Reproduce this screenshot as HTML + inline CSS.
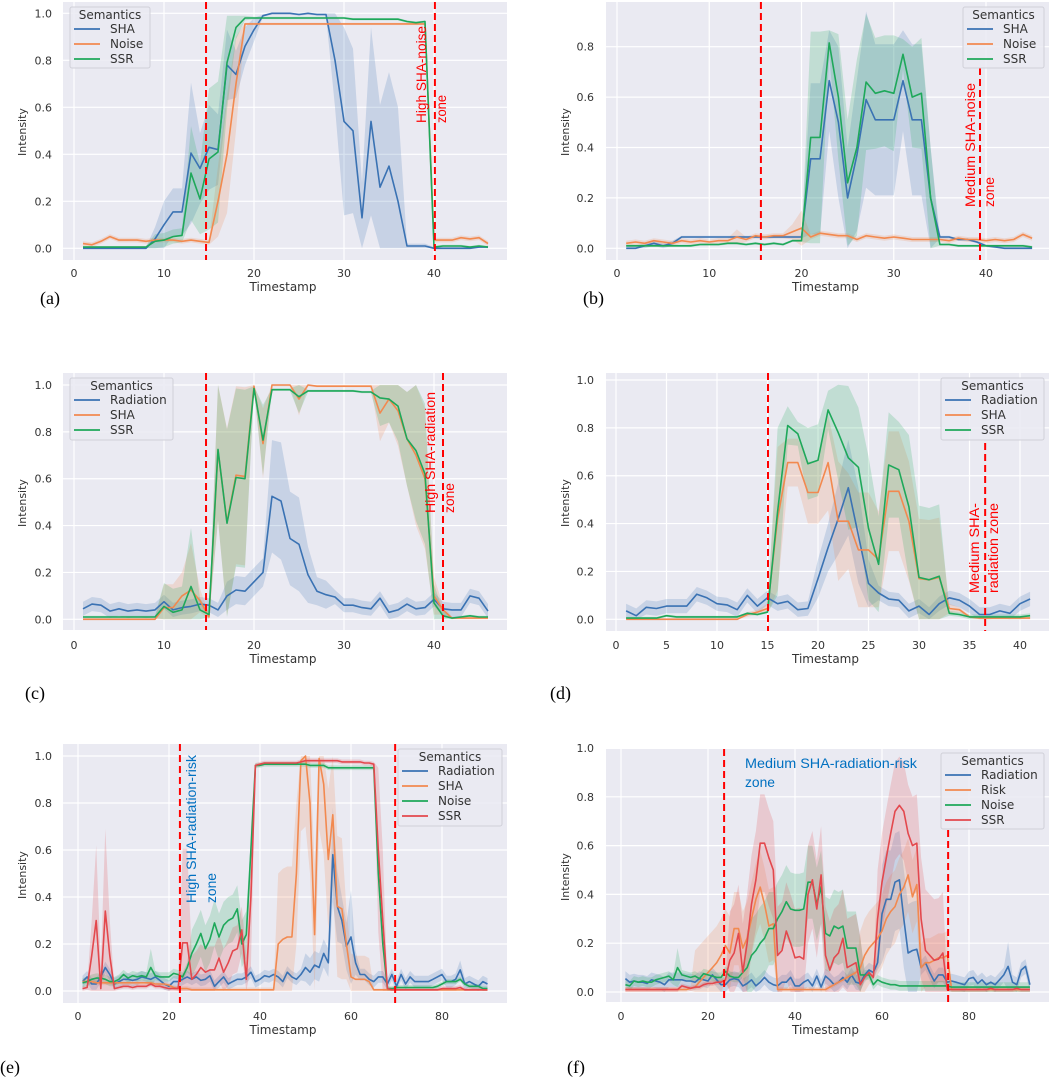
<!DOCTYPE html>
<html><head><meta charset="utf-8"><style>
html,body{margin:0;padding:0;background:#fff;}
svg{display:block;}
</style></head><body>
<svg id="fig" width="1052" height="1078" viewBox="0 0 1052 1078" xmlns="http://www.w3.org/2000/svg"></svg>
<script>
// ---------- DATA (mean values and band half-widths, timestamps start at 1) ----------
const a_SHA=[0,0,0,0,0,0,0,0,0.04,0.1,0.155,0.155,0.405,0.34,0.43,0.42,0.78,0.74,0.86,0.93,0.99,1,1,1,0.995,1,0.995,0.995,0.8,0.54,0.5,0.13,0.54,0.26,0.35,0.2,0.01,0.01,0.01,0,0,0,0,0,0.005,0.005];
const a_SHA_hw=[0.005,0.005,0.005,0.005,0.005,0.005,0.005,0.005,0.05,0.1,0.1,0.1,0.3,0.15,0.18,0.15,0.15,0.1,0.08,0.05,0.005,0.005,0.005,0.005,0.005,0.005,0.005,0.005,0.2,0.4,0.35,0.15,0.4,0.35,0.4,0.4,0.01,0.01,0.01,0.005,0.005,0.005,0.005,0.005,0.005,0.005];
const a_Noise=[0.02,0.015,0.03,0.05,0.035,0.035,0.035,0.03,0.035,0.035,0.035,0.03,0.035,0.03,0.025,0.2,0.4,0.7,0.955,0.955,0.955,0.955,0.955,0.955,0.955,0.955,0.955,0.955,0.955,0.955,0.955,0.955,0.955,0.955,0.955,0.955,0.955,0.955,0.955,0.035,0.035,0.035,0.045,0.04,0.045,0.02];
const a_Noise_hw=[0.01,0.01,0.01,0.01,0.01,0.01,0.01,0.01,0.01,0.01,0.01,0.01,0.01,0.01,0.01,0.15,0.25,0.2,0.005,0.005,0.005,0.005,0.005,0.005,0.005,0.005,0.005,0.005,0.005,0.005,0.005,0.005,0.005,0.005,0.005,0.005,0.005,0.005,0.005,0.01,0.01,0.01,0.01,0.01,0.01,0.01];
const a_SSR=[0.005,0.005,0.005,0.005,0.005,0.005,0.005,0.005,0.03,0.035,0.05,0.055,0.32,0.21,0.38,0.41,0.79,0.94,0.98,0.98,0.98,0.98,0.98,0.98,0.98,0.98,0.98,0.98,0.98,0.98,0.975,0.975,0.975,0.975,0.975,0.975,0.965,0.96,0.965,0.005,0.01,0.01,0.01,0.005,0.01,0.005];
const a_SSR_hw=[0.005,0.005,0.005,0.005,0.005,0.005,0.005,0.005,0.03,0.03,0.03,0.03,0.2,0.15,0.3,0.3,0.2,0.05,0.01,0.005,0.005,0.005,0.005,0.005,0.005,0.005,0.005,0.005,0.005,0.005,0.005,0.005,0.005,0.005,0.005,0.005,0.005,0.005,0.005,0.005,0.005,0.005,0.005,0.005,0.005,0.005];

const b_SHA=[0,0,0.01,0.02,0.01,0.02,0.045,0.045,0.045,0.045,0.045,0.045,0.045,0.045,0.045,0.045,0.045,0.045,0.045,0.045,0.355,0.355,0.665,0.5,0.2,0.37,0.59,0.51,0.51,0.51,0.665,0.51,0.51,0.2,0.045,0.045,0.035,0.035,0.025,0.01,0.005,0,0,0,0];
const b_SHA_hw=[0.01,0.01,0.01,0.01,0.01,0.01,0.005,0.005,0.005,0.005,0.005,0.005,0.005,0.005,0.005,0.005,0.005,0.005,0.005,0.005,0.3,0.3,0.2,0.3,0.2,0.3,0.35,0.3,0.3,0.3,0.2,0.3,0.3,0.2,0.005,0.005,0.005,0.005,0.005,0.005,0.005,0.005,0.005,0.005,0.005];
const b_Noise=[0.02,0.025,0.02,0.03,0.025,0.02,0.03,0.025,0.03,0.025,0.03,0.03,0.045,0.035,0.05,0.045,0.05,0.05,0.065,0.08,0.045,0.06,0.055,0.05,0.05,0.035,0.05,0.045,0.04,0.045,0.04,0.035,0.035,0.035,0.035,0.03,0.04,0.035,0.035,0.03,0.035,0.03,0.035,0.055,0.04];
const b_Noise_hw=[0.01,0.01,0.01,0.01,0.01,0.01,0.01,0.01,0.01,0.01,0.01,0.01,0.03,0.01,0.01,0.01,0.01,0.01,0.03,0.07,0.01,0.01,0.01,0.01,0.01,0.01,0.01,0.01,0.01,0.01,0.01,0.01,0.01,0.01,0.01,0.01,0.01,0.01,0.01,0.01,0.01,0.01,0.01,0.01,0.01];
const b_SSR=[0.01,0.01,0.01,0.01,0.01,0.01,0.01,0.01,0.015,0.015,0.015,0.02,0.02,0.015,0.02,0.015,0.02,0.015,0.03,0.03,0.44,0.44,0.815,0.6,0.26,0.4,0.66,0.615,0.625,0.615,0.77,0.6,0.615,0.2,0.015,0.015,0.01,0.01,0.01,0.01,0.01,0.01,0.01,0.01,0.005];
const b_SSR_hw=[0.005,0.005,0.005,0.005,0.005,0.005,0.005,0.005,0.005,0.005,0.005,0.005,0.005,0.005,0.005,0.005,0.005,0.005,0.005,0.005,0.42,0.42,0.05,0.25,0.25,0.35,0.27,0.22,0.22,0.23,0.06,0.2,0.22,0.2,0.005,0.005,0.005,0.005,0.005,0.005,0.005,0.005,0.005,0.005,0.005];

const c_Rad=[0.045,0.065,0.06,0.035,0.045,0.035,0.04,0.035,0.04,0.075,0.04,0.05,0.055,0.065,0.06,0.04,0.1,0.125,0.12,0.16,0.2,0.525,0.505,0.345,0.32,0.19,0.12,0.105,0.095,0.06,0.06,0.05,0.045,0.09,0.03,0.04,0.065,0.045,0.05,0.085,0.045,0.04,0.04,0.1,0.09,0.035];
const c_Rad_hw=[0.03,0.03,0.03,0.03,0.03,0.03,0.03,0.03,0.03,0.03,0.03,0.03,0.03,0.03,0.03,0.03,0.06,0.06,0.06,0.06,0.06,0.24,0.25,0.2,0.2,0.12,0.06,0.06,0.03,0.03,0.03,0.03,0.03,0.03,0.03,0.03,0.03,0.03,0.03,0.03,0.03,0.03,0.03,0.03,0.03,0.03];
const c_SHA=[0,0,0,0,0,0,0,0,0,0.05,0.05,0.1,0.125,0.08,0.01,0.72,0.415,0.615,0.61,0.995,0.75,1,1,1,0.94,1,0.995,0.995,0.995,0.995,0.995,0.995,0.995,0.88,0.94,0.89,0.77,0.7,0.6,0.1,0.04,0.005,0.005,0.005,0.005,0.005];
const c_SHA_hw=[0.005,0.005,0.005,0.005,0.005,0.005,0.005,0.005,0.005,0.1,0.1,0.1,0.2,0.05,0.01,0.3,0.4,0.38,0.38,0.01,0.15,0.005,0.005,0.005,0.07,0.005,0.005,0.005,0.005,0.005,0.005,0.005,0.005,0.12,0.1,0.15,0.2,0.3,0.3,0.08,0.02,0.005,0.005,0.005,0.005,0.005];
const c_SSR=[0.01,0.01,0.01,0.01,0.01,0.01,0.01,0.01,0.01,0.055,0.03,0.04,0.14,0.04,0.02,0.725,0.41,0.605,0.6,0.985,0.765,0.98,0.98,0.98,0.95,0.975,0.975,0.975,0.975,0.975,0.975,0.97,0.97,0.945,0.94,0.91,0.77,0.72,0.62,0.07,0.015,0.005,0.01,0.015,0.01,0.01];
const c_SSR_hw=[0.005,0.005,0.005,0.005,0.005,0.005,0.005,0.005,0.005,0.1,0.1,0.1,0.25,0.05,0.01,0.3,0.4,0.38,0.38,0.01,0.15,0.005,0.005,0.005,0.07,0.005,0.005,0.005,0.005,0.005,0.005,0.005,0.005,0.12,0.1,0.15,0.2,0.3,0.3,0.08,0.02,0.005,0.005,0.005,0.005,0.005];

const d_Rad=[0.035,0.015,0.05,0.045,0.055,0.055,0.055,0.105,0.09,0.065,0.06,0.04,0.1,0.055,0.09,0.065,0.075,0.04,0.045,0.17,0.3,0.42,0.55,0.35,0.15,0.11,0.085,0.08,0.035,0.055,0.02,0.065,0.09,0.08,0.055,0.02,0.02,0.035,0.025,0.065,0.085];
const d_Rad_hw=[0.03,0.03,0.03,0.03,0.03,0.03,0.03,0.03,0.03,0.03,0.03,0.03,0.03,0.03,0.03,0.03,0.03,0.03,0.03,0.08,0.1,0.15,0.2,0.2,0.1,0.03,0.03,0.03,0.03,0.03,0.03,0.03,0.03,0.03,0.03,0.03,0.03,0.03,0.03,0.03,0.03];
const d_SHA=[0,0,0,0,0,0,0,0,0,0,0,0,0.02,0.03,0.045,0.42,0.655,0.655,0.53,0.53,0.655,0.41,0.41,0.29,0.29,0.25,0.535,0.535,0.41,0.17,0.165,0.175,0.045,0.04,0.01,0.005,0.005,0.005,0.005,0.005,0.005];
const d_SHA_hw=[0.005,0.005,0.005,0.005,0.005,0.005,0.005,0.005,0.005,0.005,0.005,0.005,0.01,0.01,0.02,0.3,0.1,0.1,0.13,0.13,0.2,0.25,0.2,0.24,0.24,0.2,0.25,0.25,0.25,0.25,0.25,0.25,0.02,0.01,0.005,0.005,0.005,0.005,0.005,0.005,0.005];
const d_SSR=[0.005,0.005,0.005,0.005,0.015,0.01,0.01,0.01,0.01,0.01,0.01,0.01,0.025,0.02,0.03,0.45,0.81,0.775,0.65,0.665,0.875,0.78,0.675,0.635,0.38,0.23,0.645,0.625,0.47,0.175,0.165,0.18,0.025,0.02,0.01,0.01,0.01,0.01,0.01,0.01,0.015];
const d_SSR_hw=[0.005,0.005,0.005,0.005,0.005,0.005,0.005,0.005,0.005,0.005,0.005,0.005,0.005,0.005,0.005,0.35,0.08,0.05,0.15,0.15,0.08,0.2,0.3,0.25,0.3,0.2,0.22,0.2,0.3,0.3,0.3,0.3,0.01,0.01,0.01,0.01,0.01,0.01,0.01,0.01,0.01];

const e_Rad=[0.04,0.06,0.03,0.03,0.06,0.1,0.07,0.03,0.04,0.05,0.05,0.045,0.05,0.06,0.055,0.05,0.06,0.045,0.03,0.02,0.04,0.04,0.05,0.06,0.05,0.06,0.045,0.05,0.065,0.02,0.04,0.06,0.03,0.04,0.05,0.05,0.06,0.08,0.04,0.05,0.065,0.06,0.07,0.06,0.04,0.08,0.06,0.05,0.07,0.1,0.08,0.11,0.1,0.16,0.12,0.58,0.36,0.3,0.19,0.23,0.12,0.07,0.07,0.05,0.04,0.06,0.06,0.03,0.07,0.02,0.07,0.03,0.06,0.04,0.04,0.04,0.04,0.05,0.06,0.07,0.04,0.04,0.05,0.09,0.03,0.04,0.03,0.02,0.04,0.03];
const e_Rad_hw=[0.025,0.025,0.025,0.025,0.025,0.025,0.025,0.025,0.025,0.025,0.025,0.025,0.025,0.025,0.025,0.025,0.025,0.025,0.025,0.025,0.025,0.025,0.025,0.025,0.025,0.025,0.025,0.025,0.025,0.025,0.025,0.025,0.025,0.025,0.025,0.025,0.025,0.025,0.025,0.025,0.025,0.025,0.025,0.025,0.025,0.025,0.025,0.025,0.025,0.06,0.06,0.06,0.06,0.06,0.06,0.2,0.15,0.1,0.1,0.2,0.05,0.025,0.025,0.025,0.025,0.025,0.025,0.025,0.025,0.025,0.025,0.025,0.025,0.025,0.025,0.025,0.025,0.025,0.025,0.025,0.025,0.025,0.025,0.04,0.025,0.025,0.025,0.025,0.025,0.025];
const e_SHA=[0.04,0.04,0.04,0.035,0.035,0.035,0.035,0.035,0.035,0.035,0.035,0.035,0.035,0.035,0.035,0.035,0.03,0.03,0.03,0.025,0.015,0.01,0.01,0.01,0.005,0.005,0.005,0.005,0.005,0.005,0.005,0.005,0.005,0.005,0.005,0.005,0.005,0.005,0.005,0.005,0.005,0.005,0.005,0.2,0.22,0.23,0.23,0.5,0.98,1,0.8,0.24,0.99,0.88,0.56,0.75,0.36,0.35,0.2,0.06,0.05,0.05,0.05,0.04,0.005,0.005,0.005,0.005,0.005,0.005,0.005,0.005,0.005,0.005,0.005,0.005,0.005,0.005,0.005,0.005,0.005,0.005,0.005,0.005,0.005,0.005,0.005,0.005,0.005,0.005];
const e_SHA_hw=[0.01,0.01,0.01,0.01,0.01,0.01,0.01,0.01,0.01,0.01,0.01,0.01,0.01,0.01,0.01,0.01,0.01,0.01,0.01,0.01,0.01,0.01,0.01,0.01,0.01,0.01,0.01,0.01,0.01,0.01,0.01,0.01,0.01,0.01,0.01,0.01,0.01,0.01,0.01,0.01,0.01,0.01,0.01,0.3,0.3,0.3,0.3,0.3,0.3,0.3,0.3,0.3,0.3,0.3,0.3,0.3,0.3,0.3,0.15,0.1,0.1,0.1,0.1,0.1,0.005,0.005,0.005,0.005,0.005,0.005,0.005,0.005,0.005,0.005,0.005,0.005,0.005,0.005,0.005,0.005,0.005,0.005,0.005,0.005,0.005,0.005,0.005,0.005,0.005,0.005];
const e_Noise=[0.035,0.04,0.05,0.055,0.055,0.05,0.04,0.04,0.05,0.07,0.055,0.065,0.06,0.065,0.06,0.1,0.065,0.06,0.06,0.06,0.075,0.07,0.06,0.1,0.16,0.2,0.245,0.18,0.22,0.29,0.23,0.28,0.3,0.31,0.35,0.2,0.24,0.6,0.96,0.96,0.965,0.965,0.965,0.965,0.965,0.965,0.965,0.965,0.965,0.965,0.96,0.96,0.96,0.96,0.95,0.95,0.95,0.95,0.95,0.95,0.95,0.95,0.95,0.95,0.95,0.5,0.2,0.01,0.01,0.015,0.015,0.015,0.015,0.015,0.015,0.015,0.015,0.015,0.02,0.03,0.04,0.04,0.04,0.05,0.03,0.02,0.02,0.02,0.01,0.01];
const e_Noise_hw=[0.02,0.02,0.02,0.02,0.02,0.02,0.02,0.02,0.02,0.02,0.02,0.02,0.02,0.02,0.02,0.08,0.02,0.02,0.02,0.02,0.02,0.02,0.02,0.02,0.1,0.1,0.1,0.1,0.1,0.1,0.1,0.1,0.1,0.1,0.1,0.1,0.1,0.05,0.01,0.01,0.01,0.01,0.01,0.01,0.01,0.01,0.01,0.01,0.01,0.01,0.01,0.01,0.01,0.01,0.01,0.01,0.01,0.01,0.01,0.01,0.01,0.01,0.01,0.01,0.01,0.01,0.01,0.01,0.01,0.01,0.01,0.01,0.01,0.01,0.01,0.01,0.01,0.01,0.01,0.01,0.01,0.01,0.01,0.01,0.01,0.01,0.01,0.01,0.01,0.01];
const e_SSR=[0.01,0.015,0.15,0.3,0.01,0.34,0.15,0.01,0.015,0.02,0.02,0.015,0.02,0.02,0.02,0.03,0.02,0.02,0.015,0.01,0.01,0.01,0.205,0.205,0.05,0.07,0.1,0.08,0.09,0.09,0.14,0.08,0.12,0.17,0.18,0.26,0.05,0.4,0.96,0.965,0.97,0.97,0.97,0.97,0.97,0.97,0.97,0.97,0.975,0.98,0.98,0.98,0.98,0.98,0.98,0.98,0.98,0.975,0.975,0.975,0.975,0.975,0.97,0.97,0.965,0.6,0.3,0.01,0.005,0.005,0.005,0.005,0.005,0.005,0.005,0.005,0.005,0.005,0.005,0.01,0.01,0.01,0.01,0.015,0.005,0.005,0.005,0.005,0.005,0.005];
const e_SSR_hw=[0.01,0.01,0.15,0.32,0.1,0.35,0.15,0.01,0.01,0.01,0.01,0.01,0.01,0.01,0.01,0.01,0.01,0.01,0.01,0.01,0.01,0.01,0.4,0.4,0.1,0.1,0.1,0.1,0.1,0.1,0.1,0.1,0.1,0.1,0.1,0.1,0.1,0.3,0.01,0.01,0.01,0.01,0.01,0.01,0.01,0.01,0.01,0.01,0.01,0.01,0.01,0.01,0.01,0.01,0.01,0.01,0.01,0.01,0.01,0.01,0.01,0.01,0.01,0.01,0.01,0.35,0.3,0.01,0.01,0.01,0.01,0.01,0.01,0.01,0.01,0.01,0.01,0.01,0.01,0.01,0.01,0.01,0.01,0.01,0.01,0.01,0.01,0.01,0.01,0.01];

const f_Rad=[0.055,0.04,0.045,0.04,0.04,0.035,0.05,0.045,0.04,0.03,0.05,0.05,0.05,0.05,0.045,0.045,0.04,0.055,0.05,0.045,0.07,0.05,0.03,0.03,0.05,0.055,0.05,0.025,0.035,0.05,0.025,0.04,0.06,0.04,0.03,0.025,0.04,0.04,0.06,0.025,0.025,0.04,0.05,0.025,0.065,0.02,0.065,0.05,0.03,0.04,0.06,0.04,0.07,0.04,0.035,0.07,0.09,0.08,0.12,0.32,0.38,0.38,0.45,0.46,0.3,0.16,0.17,0.175,0.1,0.12,0.08,0.045,0.07,0.07,0.04,0.045,0.04,0.035,0.03,0.055,0.06,0.035,0.05,0.03,0.04,0.03,0.05,0.07,0.105,0.04,0.03,0.09,0.105,0.03];
const f_Rad_hw=[0.03,0.03,0.03,0.03,0.03,0.03,0.03,0.03,0.03,0.03,0.03,0.03,0.03,0.03,0.03,0.03,0.03,0.03,0.03,0.03,0.03,0.03,0.03,0.03,0.03,0.03,0.03,0.03,0.03,0.03,0.03,0.03,0.03,0.03,0.03,0.03,0.03,0.03,0.03,0.03,0.03,0.03,0.03,0.03,0.03,0.03,0.03,0.03,0.03,0.03,0.03,0.03,0.03,0.03,0.03,0.03,0.03,0.03,0.03,0.2,0.2,0.2,0.2,0.2,0.2,0.2,0.2,0.2,0.03,0.03,0.03,0.03,0.03,0.03,0.03,0.03,0.03,0.03,0.03,0.03,0.03,0.03,0.03,0.03,0.03,0.03,0.03,0.03,0.1,0.03,0.03,0.03,0.03,0.03];
const f_Risk=[0.01,0.01,0.01,0.01,0.01,0.01,0.01,0.01,0.01,0.01,0.01,0.01,0.01,0.01,0.01,0.015,0.02,0.04,0.06,0.08,0.1,0.12,0.15,0.19,0.16,0.26,0.26,0.18,0.22,0.3,0.38,0.43,0.36,0.27,0.28,0.01,0.01,0.01,0.01,0.01,0.01,0.01,0.01,0.01,0.01,0.01,0.01,0.02,0.03,0.04,0.05,0.06,0.07,0.08,0.1,0.15,0.18,0.2,0.22,0.25,0.3,0.33,0.35,0.4,0.43,0.48,0.39,0.44,0.1,0.12,0.12,0.13,0.14,0.14,0.15,0.01,0.01,0.01,0.01,0.01,0.01,0.01,0.01,0.01,0.01,0.01,0.01,0.01,0.01,0.01,0.01,0.01,0.01,0.01];
const f_Risk_hw=[0.01,0.01,0.01,0.01,0.01,0.01,0.01,0.01,0.01,0.01,0.01,0.01,0.01,0.01,0.01,0.01,0.15,0.15,0.15,0.15,0.15,0.15,0.15,0.15,0.15,0.15,0.15,0.15,0.15,0.15,0.15,0.15,0.15,0.15,0.15,0.01,0.01,0.01,0.01,0.01,0.01,0.01,0.01,0.01,0.01,0.01,0.01,0.01,0.01,0.01,0.01,0.01,0.01,0.01,0.15,0.15,0.15,0.15,0.15,0.15,0.15,0.15,0.15,0.15,0.15,0.15,0.15,0.15,0.1,0.1,0.1,0.1,0.1,0.1,0.1,0.01,0.01,0.01,0.01,0.01,0.01,0.01,0.01,0.01,0.01,0.01,0.01,0.01,0.01,0.01,0.01,0.01,0.01,0.01];
const f_Noise=[0.03,0.025,0.045,0.04,0.045,0.04,0.04,0.05,0.055,0.06,0.065,0.05,0.1,0.07,0.065,0.06,0.065,0.055,0.075,0.07,0.065,0.06,0.06,0.085,0.065,0.06,0.06,0.08,0.1,0.15,0.17,0.2,0.22,0.26,0.26,0.3,0.33,0.37,0.34,0.335,0.335,0.34,0.45,0.45,0.36,0.43,0.24,0.23,0.27,0.26,0.27,0.18,0.18,0.18,0.07,0.07,0.07,0.03,0.05,0.04,0.035,0.03,0.03,0.025,0.025,0.025,0.025,0.025,0.025,0.025,0.025,0.025,0.025,0.025,0.025,0.02,0.02,0.02,0.02,0.02,0.02,0.02,0.02,0.02,0.02,0.02,0.02,0.02,0.02,0.02,0.02,0.02,0.02,0.02];
const f_Noise_hw=[0.02,0.02,0.02,0.02,0.02,0.02,0.02,0.02,0.02,0.02,0.02,0.02,0.08,0.02,0.02,0.02,0.02,0.02,0.02,0.02,0.02,0.02,0.02,0.02,0.02,0.02,0.02,0.02,0.15,0.15,0.15,0.15,0.15,0.15,0.15,0.15,0.15,0.15,0.15,0.15,0.15,0.15,0.15,0.15,0.15,0.15,0.15,0.15,0.15,0.15,0.15,0.15,0.15,0.15,0.15,0.02,0.02,0.02,0.02,0.02,0.02,0.02,0.02,0.02,0.02,0.02,0.02,0.02,0.02,0.02,0.02,0.02,0.02,0.02,0.02,0.02,0.02,0.02,0.02,0.02,0.02,0.02,0.02,0.02,0.02,0.02,0.02,0.02,0.02,0.02,0.02,0.02,0.02,0.02];
const f_SSR=[0.01,0.01,0.01,0.01,0.01,0.01,0.01,0.01,0.01,0.01,0.01,0.01,0.01,0.025,0.02,0.015,0.02,0.02,0.03,0.035,0.035,0.04,0.04,0.05,0.13,0.16,0.24,0.08,0.2,0.36,0.46,0.61,0.61,0.55,0.5,0.15,0.17,0.25,0.2,0.14,0.145,0.135,0.4,0.46,0.34,0.48,0.15,0.09,0.14,0.16,0.22,0.1,0.11,0.12,0.03,0.06,0.08,0.06,0.3,0.45,0.55,0.65,0.74,0.765,0.74,0.65,0.6,0.61,0.3,0.17,0.15,0.13,0.135,0.16,0.01,0.01,0.01,0.01,0.01,0.01,0.01,0.01,0.01,0.01,0.015,0.01,0.01,0.01,0.01,0.01,0.015,0.01,0.01,0.01];
const f_SSR_hw=[0.01,0.01,0.01,0.01,0.01,0.01,0.01,0.01,0.01,0.01,0.01,0.01,0.01,0.01,0.01,0.01,0.01,0.01,0.01,0.01,0.01,0.01,0.01,0.01,0.2,0.2,0.2,0.2,0.2,0.2,0.2,0.2,0.2,0.2,0.2,0.2,0.2,0.2,0.2,0.2,0.2,0.2,0.2,0.2,0.2,0.2,0.2,0.2,0.2,0.2,0.2,0.2,0.2,0.2,0.2,0.01,0.01,0.01,0.2,0.2,0.2,0.2,0.2,0.2,0.2,0.2,0.2,0.2,0.25,0.25,0.25,0.25,0.25,0.25,0.01,0.01,0.01,0.01,0.01,0.01,0.01,0.01,0.01,0.01,0.01,0.01,0.01,0.01,0.01,0.01,0.01,0.01,0.01,0.01];

const ticks_x_10=[0,10,20,30,40];
const ticks_x_5=[0,5,10,15,20,25,30,35,40];
const ticks_x_20=[0,20,40,60,80];
const ticks_y_full=[0,0.2,0.4,0.6,0.8,1.0];
const ticks_y_08=[0,0.2,0.4,0.6,0.8];
const zones_a=[14.67,40.1];
const zones_b=[15.6,39.35];
const zones_c=[14.67,41.0];
const zones_d=[15.05,36.55];
const zones_e=[22.4,69.7];
const zones_f=[23.7,75.2];

// ---------- STYLE / LAYOUT ----------
const BLUE='#3a72b3', ORANGE='#f2894f', GREEN='#1ea85a', RED='#e3484d';
const NS='http://www.w3.org/2000/svg';
const svg=document.getElementById('fig');
const FONT='"DejaVu Sans","Liberation Sans",sans-serif';

function mk(tag, attrs, parent){
  const el=document.createElementNS(NS,tag);
  for(const k in attrs) el.setAttribute(k, attrs[k]);
  (parent||svg).appendChild(el);
  return el;
}

const panels=[
 {id:'a',label:'(a)',lx:40,ly:304,bg:[63,2,507,260],x0:74,k:9,v0:248.3,v1:13.3,xt:ticks_x_10,yt:ticks_y_full,ytx:52,xty:277,xly:291,ylx:22,yly:132,
  series:[['SHA',a_SHA,a_SHA_hw,BLUE],['Noise',a_Noise,a_Noise_hw,ORANGE],['SSR',a_SSR,a_SSR_hw,GREEN]],
  zones:zones_a,z2top:2,leg:[70,7,80,61],
  notes:[['High SHA-noise',426,123,97,'#ff0000',true],['zone',446,123,28,'#ff0000',true]]},
 {id:'b',label:'(b)',lx:583,ly:304,bg:[606,2,1049,260],x0:617,k:9.225,v0:248.3,v1:-3.7,xt:ticks_x_10,yt:ticks_y_08,ytx:594,xty:277,xly:291,ylx:565,yly:132,
  series:[['SHA',b_SHA,b_SHA_hw,BLUE],['Noise',b_Noise,b_Noise_hw,ORANGE],['SSR',b_SSR,b_SSR_hw,GREEN]],
  zones:zones_b,z2top:68,leg:[963,7,81,61],
  notes:[['Medium SHA-noise',975,207,124,'#ff0000',true],['zone',994,207,30,'#ff0000',true]]},
 {id:'c',label:'(c)',lx:25,ly:699,bg:[63,373,507,630],x0:74,k:9,v0:619.3,v1:385,xt:ticks_x_10,yt:ticks_y_full,ytx:52,xty:649,xly:663,ylx:22,yly:503,
  series:[['Radiation',c_Rad,c_Rad_hw,BLUE],['SHA',c_SHA,c_SHA_hw,ORANGE],['SSR',c_SSR,c_SSR_hw,GREEN]],
  zones:zones_c,z2top:373,leg:[70,378,103,62],
  notes:[['High SHA-radiation',435,513,121,'#ff0000',true],['zone',454,513,30,'#ff0000',true]]},
 {id:'d',label:'(d)',lx:550,ly:699,bg:[606,373,1049,631],x0:616,k:10.1,v0:619.3,v1:380,xt:ticks_x_5,yt:ticks_y_full,ytx:594,xty:649,xly:663,ylx:565,yly:503,
  series:[['Radiation',d_Rad,d_Rad_hw,BLUE],['SHA',d_SHA,d_SHA_hw,ORANGE],['SSR',d_SSR,d_SSR_hw,GREEN]],
  zones:zones_d,z2top:443,leg:[941,378,103,62],
  notes:[['Medium SHA-',979,593,90,'#ff0000',true],['radiation zone',998,593,90,'#ff0000',true]]},
 {id:'e',label:'(e)',lx:0,ly:1073,bg:[63,744,507,1003],x0:78,k:4.55,v0:991,v1:756,xt:ticks_x_20,yt:ticks_y_full,ytx:52,xty:1020,xly:1034,ylx:22,yly:875,
  series:[['Radiation',e_Rad,e_Rad_hw,BLUE],['SHA',e_SHA,e_SHA_hw,ORANGE],['Noise',e_Noise,e_Noise_hw,GREEN],['SSR',e_SSR,e_SSR_hw,RED]],
  zones:zones_e,z2top:744,leg:[398,749,104,77],
  notes:[['High SHA-radiation-risk',196,903,148,'#0070c0',true],['zone',216,903,30,'#0070c0',true]]},
 {id:'f',label:'(f)',lx:567,ly:1073,bg:[606,749,1049,1002],x0:621,k:4.35,v0:992,v1:748,xt:ticks_x_20,yt:ticks_y_full,ytx:594,xty:1020,xly:1034,ylx:565,yly:877,
  series:[['Radiation',f_Rad,f_Rad_hw,BLUE],['Risk',f_Risk,f_Risk_hw,ORANGE],['Noise',f_Noise,f_Noise_hw,GREEN],['SSR',f_SSR,f_SSR_hw,RED]],
  zones:zones_f,z2top:830,leg:[941,753,103,76],
  notes:[['Medium SHA-radiation-risk',745,768,172,'#0070c0',false],['zone',745,787,30,'#0070c0',false]]}
];

function clamp(v){return Math.max(0,Math.min(1,v));}

panels.forEach(p=>{
  const g=mk('g',{});
  
  
  const xs=t=>p.x0+t*p.k;
  const ys=v=>p.v0+(p.v1-p.v0)*v;
  const [bx0,by0,bx1,by1]=p.bg;
  const bg=mk('rect',{x:bx0,y:by0,width:bx1-bx0,height:by1-by0,fill:'#eaeaf2'},g);
  
  
  const cp=mk('clipPath',{id:'clip-'+p.id},g);
  mk('rect',{x:bx0,y:by0,width:bx1-bx0,height:by1-by0},cp);
  p.xt.forEach(t=>{
    const l=mk('line',{x1:xs(t),x2:xs(t),y1:by0,y2:by1,stroke:'#fff','stroke-width':1.2},g);
    
    
    const tx=mk('text',{x:xs(t),y:p.xty,'text-anchor':'middle','font-family':FONT,'font-size':11,fill:'#333'},g);
    tx.textContent=t;
    
    
  });
  p.yt.forEach(v=>{
    const l=mk('line',{x1:bx0,x2:bx1,y1:ys(v),y2:ys(v),stroke:'#fff','stroke-width':1.2},g);
    
    
    const tx=mk('text',{x:p.ytx,y:ys(v)+4,'text-anchor':'end','font-family':FONT,'font-size':11,fill:'#333'},g);
    tx.textContent=v.toFixed(1);
    
    
  });
  const xl=mk('text',{x:(bx0+bx1)/2-2,y:p.xly,'text-anchor':'middle','font-family':FONT,'font-size':12,fill:'#333'},g);
  xl.textContent='Timestamp';
  
  
  const yl=mk('text',{x:0,y:0,'text-anchor':'middle','font-family':FONT,'font-size':11,fill:'#333',transform:`translate(${p.ylx+4},${p.yly}) rotate(-90)`},g);
  yl.textContent='Intensity';
  
  
  const pg=mk('g',{'clip-path':`url(#clip-${p.id})`},g);
  p.series.forEach(s=>{
    const [name,vals,hw,col]=s;
    let up='',lo='';
    vals.forEach((v,i)=>{up+=(i?'L':'M')+xs(i+1).toFixed(1)+','+ys(clamp(v+hw[i])).toFixed(1);});
    for(let i=vals.length-1;i>=0;i--){lo+='L'+xs(i+1).toFixed(1)+','+ys(clamp(vals[i]-hw[i])).toFixed(1);}
    const b=mk('path',{d:up+lo+'Z',fill:col,'fill-opacity':0.2,stroke:'none'},pg);
    
    
  });
  p.series.forEach(s=>{
    const [name,vals,hw,col]=s;
    let d='';
    vals.forEach((v,i)=>{d+=(i?'L':'M')+xs(i+1).toFixed(1)+','+ys(v).toFixed(1);});
    const l=mk('path',{d:d,fill:'none',stroke:col,'stroke-width':1.6,'stroke-linejoin':'round'},pg);
    
    
  });
  p.zones.forEach((z,i)=>{
    const top=i===0?by0:p.z2top;
    const l=mk('line',{x1:xs(z),x2:xs(z),y1:top,y2:by1,stroke:'#ff0000','stroke-width':2,'stroke-dasharray':'7,4'},g);
    
    
  });
  p.notes.forEach(n=>{
    const [txt,x,y,len,col,rot]=n;
    const t=mk('text',{x:0,y:0,'font-family':'"Liberation Sans",sans-serif','font-size':14,fill:col,textLength:len,lengthAdjust:'spacingAndGlyphs',
      transform:rot?`translate(${x},${y}) rotate(-90)`:`translate(${x},${y})`},g);
    t.textContent=txt;
    
    
  });
  const [lx,ly,lw,lh]=p.leg;
  const lg=mk('g',{},g);
  
  
  mk('rect',{x:lx,y:ly,width:lw,height:lh,rx:2,fill:'#eaeaf2','fill-opacity':0.85,stroke:'#d0d0d8','stroke-width':1},lg);
  const tt=mk('text',{x:lx+lw/2,y:ly+12,'text-anchor':'middle','font-family':FONT,'font-size':12,fill:'#333'},lg);
  tt.textContent='Semantics';
  
  
  p.series.forEach((s,i)=>{
    const cy=ly+22+i*15;
    const ll=mk('line',{x1:lx+4,x2:lx+30,y1:cy,y2:cy,stroke:s[3],'stroke-width':1.8},lg);
    
    
    const et=mk('text',{x:lx+40,y:cy+4,'font-family':FONT,'font-size':12,fill:'#333'},lg);
    et.textContent=s[0];
    
    
  });
  const pl=mk('text',{x:p.lx,y:p.ly,'font-family':'"Liberation Serif",serif','font-size':18,fill:'#000'},g);
  pl.textContent=p.label;
  
  
});
</script>
</body></html>
